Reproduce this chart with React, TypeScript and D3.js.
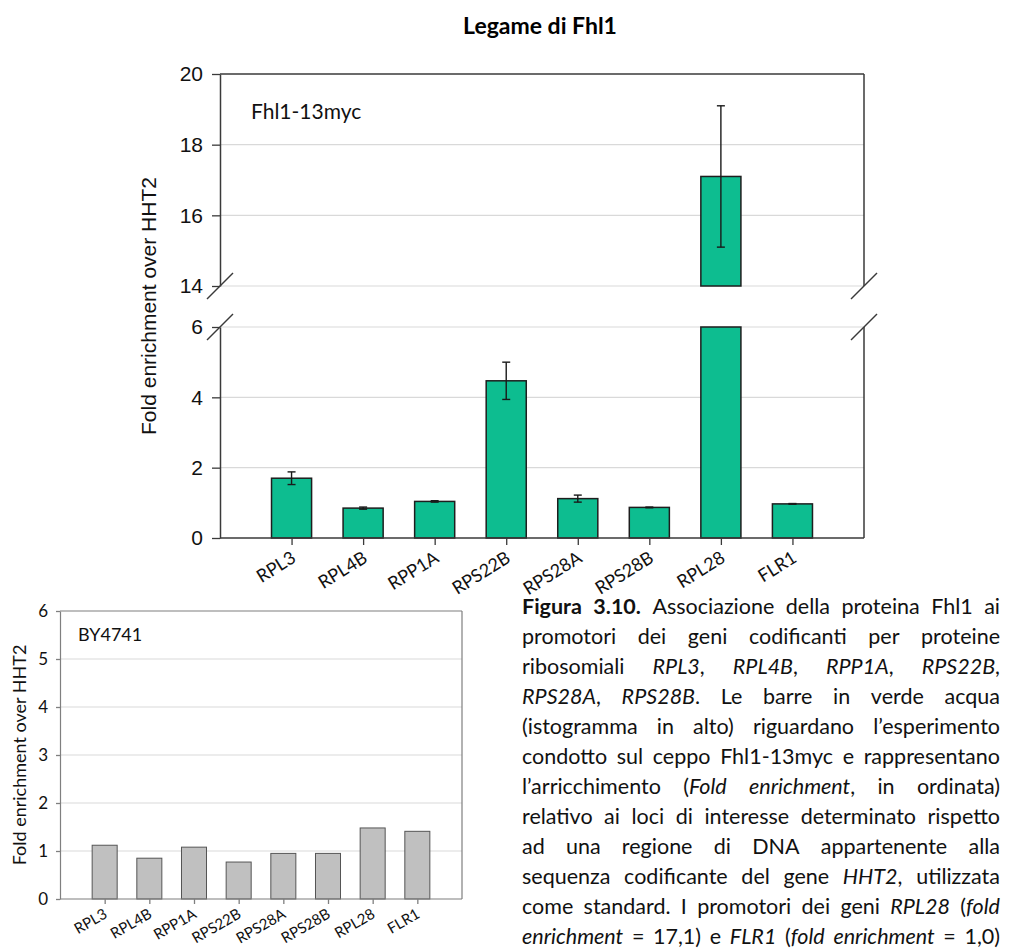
import React, { useEffect, useRef } from 'react';
import * as d3 from 'd3';

const genes = ['RPL3', 'RPL4B', 'RPP1A', 'RPS22B', 'RPS28A', 'RPS28B', 'RPL28', 'FLR1'];
const fhl1Values = [1.7, 0.85, 1.04, 4.47, 1.12, 0.87, 17.1, 0.97];
const fhl1Errors = [0.18, 0.03, 0.02, 0.53, 0.1, 0.01, 2.0, 0.01];
const by4741Values = [1.12, 0.85, 1.08, 0.77, 0.95, 0.95, 1.48, 1.41];
const lowTicks = [0, 2, 4, 6];
const highTicks = [14, 16, 18, 20];
const byTicks = [0, 1, 2, 3, 4, 5, 6];

// * toggles italic, # toggles bold
const captionLines = [
  '#Figura 3.10.# Associazione della proteina Fhl1 ai',
  'promotori dei geni codificanti per proteine',
  'ribosomiali *RPL3*, *RPL4B*, *RPP1A*, *RPS22B*,',
  '*RPS28A*, *RPS28B*. Le barre in verde acqua',
  '(istogramma in alto) riguardano l\u2019esperimento',
  'condotto sul ceppo Fhl1-13myc e rappresentano',
  'l\u2019arricchimento (*Fold enrichment*, in ordinata)',
  'relativo ai loci di interesse determinato rispetto',
  'ad una regione di DNA appartenente alla',
  'sequenza codificante del gene *HHT2*, utilizzata',
  'come standard. I promotori dei geni *RPL28* (*fold*',
  '*enrichment* = 17,1) e *FLR1* (*fold enrichment* = 1,0)',
];

const CAL = 'Lato, "Open Sans", sans-serif';
const ARIAL = '"Liberation Sans", Arial, sans-serif';

type Run = { t: string; i: boolean; b: boolean };

function parseLine(line: string): Run[][] {
  let italic = false;
  let bold = false;
  const words: Run[][] = [];
  let cur: Run[] = [];
  let buf = '';
  const flush = () => {
    if (buf) {
      cur.push({ t: buf, i: italic, b: bold });
      buf = '';
    }
  };
  for (const ch of line) {
    if (ch === '*') { flush(); italic = !italic; }
    else if (ch === '#') { flush(); bold = !bold; }
    else if (ch === ' ') { flush(); if (cur.length) words.push(cur); cur = []; }
    else buf += ch;
  }
  flush();
  if (cur.length) words.push(cur);
  return words;
}

const App = () => {
  const svgRef = useRef<SVGSVGElement>(null);

  useEffect(() => {
    const svg = d3.select(svgRef.current);
    svg.selectAll('*').remove();
    const fmt = d3.format('d');

    // ---------- top chart ----------
    const left = 220, right = 864;
    const x = d3.scalePoint<string>().domain(genes).range([left, right]).padding(1);
    const bw = x.step() * 0.56;
    const yLow = d3.scaleLinear().domain([0, 6]).range([538, 327]);
    const yHigh = d3.scaleLinear().domain([14, 20]).range([286, 74]);
    const axisColor = '#3a3a3a';

    const top = svg.append('g');

    top.append('text')
      .attr('x', 540).attr('y', 34)
      .attr('text-anchor', 'middle')
      .style('font-family', CAL).style('font-size', '23px').style('font-weight', 'bold')
      .text('Legame di Fhl1');

    // gridlines
    top.selectAll('line.gl')
      .data(lowTicks.filter((d) => d > 0))
      .join('line')
      .attr('x1', left).attr('x2', right)
      .attr('y1', (d) => yLow(d)).attr('y2', (d) => yLow(d))
      .attr('stroke', '#d9d9d9').attr('stroke-width', 1.2);
    top.selectAll('line.gh')
      .data(highTicks.filter((d) => d < 20))
      .join('line')
      .attr('x1', left).attr('x2', right)
      .attr('y1', (d) => yHigh(d)).attr('y2', (d) => yHigh(d))
      .attr('stroke', '#d9d9d9').attr('stroke-width', 1.2);

    // bars, split over both panels
    const bars = top.append('g');
    genes.forEach((g, i) => {
      const v = fhl1Values[i];
      const cx = x(g) as number;
      const vLow = Math.min(v, 6);
      bars.append('rect')
        .attr('x', cx - bw / 2).attr('width', bw)
        .attr('y', yLow(vLow)).attr('height', yLow(0) - yLow(vLow))
        .attr('fill', '#0dbd90').attr('stroke', '#1e1e1e').attr('stroke-width', 1.5);
      if (v > 14) {
        bars.append('rect')
          .attr('x', cx - bw / 2).attr('width', bw)
          .attr('y', yHigh(Math.min(v, 20))).attr('height', yHigh(14) - yHigh(Math.min(v, 20)))
          .attr('fill', '#0dbd90').attr('stroke', '#1e1e1e').attr('stroke-width', 1.5);
      }
    });

    // error bars
    genes.forEach((g, i) => {
      const v = fhl1Values[i];
      const e = fhl1Errors[i];
      const y = v > 14 ? yHigh : yLow;
      const cx = x(g) as number;
      const eg = top.append('g').attr('stroke', '#1a1a1a').attr('stroke-width', 1.4);
      eg.append('line').attr('x1', cx).attr('x2', cx).attr('y1', y(v - e)).attr('y2', y(v + e));
      eg.append('line').attr('x1', cx - 4).attr('x2', cx + 4).attr('y1', y(v - e)).attr('y2', y(v - e));
      eg.append('line').attr('x1', cx - 4).attr('x2', cx + 4).attr('y1', y(v + e)).attr('y2', y(v + e));
    });

    // frame
    const frame = top.append('g').attr('stroke', axisColor).attr('stroke-width', 1.5);
    frame.append('line').attr('x1', left).attr('x2', right).attr('y1', yHigh(20)).attr('y2', yHigh(20));
    frame.append('line').attr('x1', right).attr('x2', right).attr('y1', yHigh(20)).attr('y2', yHigh(14));
    frame.append('line').attr('x1', right).attr('x2', right).attr('y1', yLow(6)).attr('y2', yLow(0));

    const styleAxis = (g: any, font: string, size: string, color: string) => {
      g.select('.domain').attr('stroke', color).attr('stroke-width', 1.5);
      g.selectAll('.tick line').attr('stroke', color).attr('stroke-width', 1.3);
      g.selectAll('.tick text').style('font-family', font).style('font-size', size).attr('fill', '#111');
    };

    const ayLow = top.append('g').attr('transform', `translate(${left},0)`)
      .call(d3.axisLeft(yLow).tickValues(lowTicks).tickFormat(fmt as any).tickSize(8).tickSizeOuter(0).tickPadding(9));
    styleAxis(ayLow, ARIAL, '21px', axisColor);
    const ayHigh = top.append('g').attr('transform', `translate(${left},0)`)
      .call(d3.axisLeft(yHigh).tickValues(highTicks).tickFormat(fmt as any).tickSize(8).tickSizeOuter(0).tickPadding(9));
    styleAxis(ayHigh, ARIAL, '21px', axisColor);

    const ax = top.append('g').attr('transform', `translate(0,${yLow(0)})`)
      .call(d3.axisBottom(x).tickSize(7).tickSizeOuter(0));
    styleAxis(ax, CAL, '18px', axisColor);
    ax.select('.domain').attr('d', `M${left},0H${right}`);
    ax.selectAll('.tick text')
      .attr('text-anchor', 'end').attr('x', 0).attr('y', 0).attr('dy', 0)
      .attr('transform', 'translate(5,23) rotate(-32)');

    // axis break marks
    const brk = top.append('g').attr('stroke', axisColor).attr('stroke-width', 1.5);
    [left, right].forEach((bx) => {
      [yHigh(14), yLow(6)].forEach((by) => {
        brk.append('line').attr('x1', bx - 13).attr('y1', by + 13).attr('x2', bx + 13).attr('y2', by - 13);
      });
    });

    top.append('text')
      .attr('transform', 'translate(148,306) rotate(-90)')
      .attr('text-anchor', 'middle').attr('dominant-baseline', 'central')
      .style('font-family', ARIAL).style('font-size', '21px').attr('fill', '#111')
      .text('Fold enrichment over HHT2');

    top.append('text')
      .attr('x', 251).attr('y', 119)
      .style('font-family', CAL).style('font-size', '21px').attr('fill', '#111')
      .text('Fhl1-13myc');

    // ---------- bottom chart ----------
    const bl = 60, br = 462;
    const x2 = d3.scalePoint<string>().domain(genes).range([bl, br]).padding(1);
    const bw2 = x2.step() * 0.56;
    const y2 = d3.scaleLinear().domain([0, 6]).range([899, 611]);
    const grey = '#7f7f7f';
    const bot = svg.append('g');

    bot.selectAll('line.grid')
      .data(byTicks.filter((d) => d > 0 && d < 6))
      .join('line')
      .attr('x1', bl).attr('x2', br)
      .attr('y1', (d) => y2(d)).attr('y2', (d) => y2(d))
      .attr('stroke', '#d9d9d9').attr('stroke-width', 1);

    bot.selectAll('rect')
      .data(by4741Values)
      .join('rect')
      .attr('x', (_d, i) => (x2(genes[i]) as number) - bw2 / 2)
      .attr('width', bw2)
      .attr('y', (d) => y2(d))
      .attr('height', (d) => y2(0) - y2(d))
      .attr('fill', '#c0c0c0').attr('stroke', '#555').attr('stroke-width', 1);

    bot.append('line').attr('x1', bl).attr('x2', br).attr('y1', y2(6)).attr('y2', y2(6))
      .attr('stroke', grey).attr('stroke-width', 1.2);
    bot.append('line').attr('x1', br).attr('x2', br).attr('y1', y2(6)).attr('y2', y2(0))
      .attr('stroke', grey).attr('stroke-width', 1.2);

    const by = bot.append('g').attr('transform', `translate(${bl},0)`)
      .call(d3.axisLeft(y2).tickValues(byTicks).tickFormat(fmt as any).tickSize(4).tickSizeOuter(0).tickPadding(8));
    styleAxis(by, CAL, '17px', grey);
    by.select('.domain').attr('stroke-width', 1.2);

    const bx = bot.append('g').attr('transform', `translate(0,${y2(0)})`)
      .call(d3.axisBottom(x2).tickSize(5).tickSizeOuter(0));
    styleAxis(bx, CAL, '15px', grey);
    bx.select('.domain').attr('d', `M${bl},0H${br}`).attr('stroke-width', 1.2);
    bx.selectAll('.tick text')
      .attr('text-anchor', 'end').attr('x', 0).attr('y', 0).attr('dy', 0)
      .attr('transform', 'translate(3,18) rotate(-30)');

    bot.append('text')
      .attr('transform', 'translate(19,755) rotate(-90)')
      .attr('text-anchor', 'middle').attr('dominant-baseline', 'central')
      .style('font-family', CAL).style('font-size', '18px').attr('fill', '#111')
      .text('Fold enrichment over HHT2');

    bot.append('text')
      .attr('x', 78).attr('y', 641)
      .style('font-family', CAL).style('font-size', '18px').attr('fill', '#111')
      .text('BY4741');

    // ---------- caption, justified ----------
    const capLeft = 522, capRight = 1000, capTop = 614, lineH = 30;
    const cap = svg.append('g')
      .style('font-family', CAL).style('font-size', '21.5px').attr('fill', '#111');
    captionLines.forEach((line, li) => {
      const words = parseLine(line);
      const nodes = words.map((runs) => {
        const t = cap.append('text').attr('y', capTop + li * lineH);
        runs.forEach((r) => {
          t.append('tspan')
            .style('font-style', r.i ? 'italic' : 'normal')
            .style('font-weight', r.b ? 'bold' : 'normal')
            .text(r.t);
        });
        return t;
      });
      const widths = nodes.map((n) => (n.node() as SVGTextElement).getComputedTextLength());
      const total = d3.sum(widths);
      const gap = words.length > 1 ? (capRight - capLeft - total) / (words.length - 1) : 0;
      let cx = capLeft;
      nodes.forEach((n, k) => {
        n.attr('x', cx);
        cx += widths[k] + gap;
      });
    });
  }, []);

  return (
    <svg
      ref={svgRef}
      width={1009}
      height={948}
      style={{ position: 'absolute', left: 0, top: 0, background: '#fff' }}
    />
  );
};

export default App;
